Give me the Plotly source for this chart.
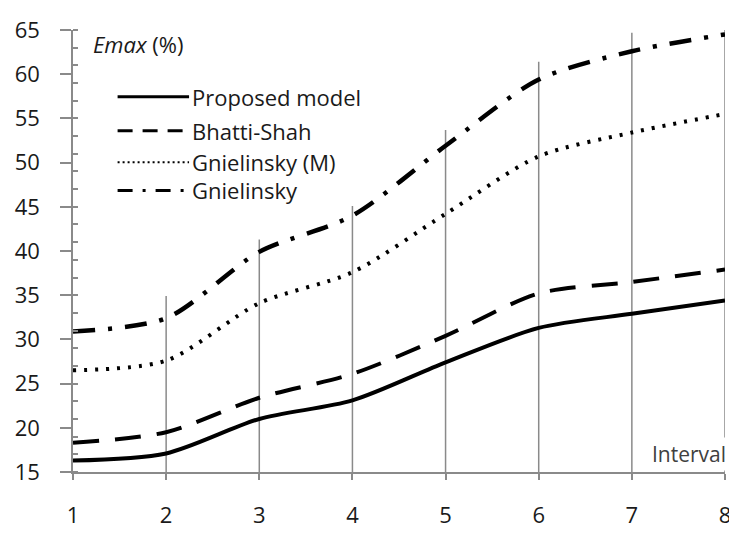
import plotly.graph_objects as go

intervals = [1, 2, 3, 4, 5, 6, 7, 8]
proposed_model = [16.3, 17.1, 21.0, 23.1, 27.4, 31.3, 32.9, 34.4]
bhatti_shah = [18.3, 19.5, 23.4, 26.1, 30.4, 35.2, 36.5, 37.9]
gnielinsky_m = [26.5, 27.6, 34.1, 37.6, 44.2, 50.7, 53.4, 55.5]
gnielinsky = [30.9, 32.4, 39.9, 44.0, 51.9, 59.4, 62.6, 64.5]
drop_top = [None, 34.9, 41.3, 45.1, 53.7, 61.4, 64.7, 65.0]

series_names = ["Proposed model", "Bhatti-Shah", "Gnielinsky (M)", "Gnielinsky"]
series_values = [proposed_model, bhatti_shah, gnielinsky_m, gnielinsky]
series_dash = ["solid", "26px,16px", "3px,8px", "22px,13px,4px,13px"]
series_width = [4, 4, 4, 4.5]
legend_dash = ["solid", "15px,10px", "2px,3px", "15px,10px,3px,10px"]
legend_width = [3, 3, 2, 3]

FONT = "Open Sans"
GRAY = "#8a8a8a"
TXT = "#1a1a1a"
ymin, ymax = 15, 65

fig = go.Figure()

# drop lines
dx, dy = [], []
for xv, top in zip(intervals, drop_top):
    if top is None:
        continue
    dx += [xv, xv, None]
    dy += [ymin, top, None]
fig.add_trace(go.Scatter(x=dx, y=dy, mode="lines", line=dict(color=GRAY, width=1.5),
                         hoverinfo="skip", showlegend=False, cliponaxis=False))

for name, vals, dash, w in zip(series_names, series_values, series_dash, series_width):
    fig.add_trace(go.Scatter(x=intervals, y=vals, name=name, mode="lines",
                             line=dict(color="black", width=w, dash=dash,
                                       shape="spline", smoothing=0.8),
                             showlegend=False, cliponaxis=False))

# manual legend
leg_rows = [0.849, 0.772, 0.701, 0.637]
lx0, lx1 = 0.0684, 0.178
for name, dash, w, yy in zip(series_names, legend_dash, legend_width, leg_rows):
    fig.add_shape(type="line", xref="paper", yref="paper", x0=lx0, x1=lx1, y0=yy, y1=yy,
                  line=dict(color="black", width=w, dash=dash))
    fig.add_annotation(xref="paper", yref="paper", x=lx1 + 0.002, y=yy, text=name,
                       showarrow=False, xanchor="left", yanchor="middle",
                       font=dict(family=FONT, size=22, color=TXT))

fig.add_annotation(xref="paper", yref="paper", x=0.027, y=0.968,
                   text="<i>Emax</i> (%)", showarrow=False, xanchor="left", yanchor="middle",
                   font=dict(family=FONT, size=22, color=TXT))

fig.add_annotation(x=intervals[-1], y=ymin, xref="x", yref="y", text="Interval",
                   showarrow=False, xanchor="right", yanchor="bottom", xshift=4, yshift=1,
                   bgcolor="white", borderpad=2,
                   font=dict(family=FONT, size=21, color="#404040"))

# the page body has an 8px margin: compensate so the plot area lands at 73..731 x 20..485
fig.update_layout(
    width=729, height=527,
    margin=dict(l=65, r=6, t=12, b=50),
    plot_bgcolor="white", paper_bgcolor="white",
    showlegend=False,
    xaxis=dict(range=[1, 8], tickmode="array", tickvals=intervals,
               ticktext=[str(v) for v in intervals],
               showgrid=False, zeroline=False, showline=True, linecolor=GRAY, linewidth=1.5,
               ticks="outside", ticklen=6, tickcolor=GRAY, tickwidth=1.5,
               ticklabelstandoff=17, ticklabeloverflow="allow",
               tickfont=dict(family=FONT, size=22, color=TXT)),
    yaxis=dict(range=[ymin, ymax], dtick=5, tick0=15,
               showgrid=False, zeroline=False, showline=True, linecolor=GRAY, linewidth=1.5,
               ticks="outside", ticklen=11, tickcolor=GRAY, tickwidth=1.5,
               ticklabelstandoff=16, ticklabeloverflow="allow",
               minor=dict(dtick=2, tick0=15, ticks="inside", ticklen=5, tickcolor=GRAY,
                          tickwidth=1.5, showgrid=False),
               tickfont=dict(family=FONT, size=22, color=TXT)),
)

fig.write_html("out.html")
